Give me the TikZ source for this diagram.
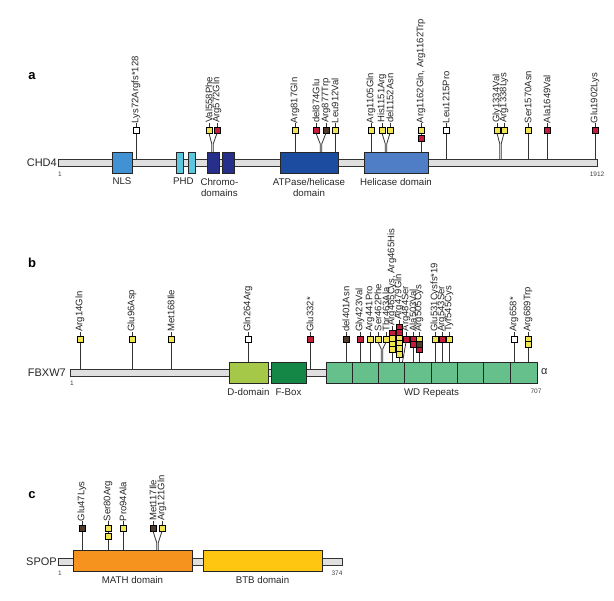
\documentclass[tikz,border=0pt]{standalone}
\usepackage{fontspec}
\setmainfont{Liberation Sans}
\usetikzlibrary{positioning}

\definecolor{myel}{RGB}{240,228,80}
\definecolor{mred}{RGB}{196,28,58}
\definecolor{mbrown}{RGB}{80,58,44}
\definecolor{mwhite}{RGB}{255,255,255}
\definecolor{cnls}{RGB}{64,146,212}
\definecolor{cphd}{RGB}{92,198,222}
\definecolor{cchr}{RGB}{38,48,138}
\definecolor{catp}{RGB}{28,76,160}
\definecolor{chel}{RGB}{80,126,198}
\definecolor{cdd}{RGB}{166,200,72}
\definecolor{cfb}{RGB}{20,134,70}
\definecolor{cwd}{RGB}{102,192,140}
\definecolor{cmath}{RGB}{246,146,30}
\definecolor{cbtb}{RGB}{254,198,16}

\begin{document}
\begin{tikzpicture}[x=1pt, y=-1pt]

      \tikzset{bar/.style = {draw=black!80, fill=black!12, line width=1.2pt, minimum height=7pt, inner sep=0pt}}
      \tikzset{dom/.style = {draw=black!85, line width=0.8pt, minimum height=21.2pt, inner sep=0pt}}
      \tikzset{sq/.style = {draw=black, line width=0.5pt, minimum size=5.8pt, inner sep=0pt}}
      \tikzset{stem/.style = {draw=black!80, line width=0.8pt}}
      \tikzset{lab/.style = {rotate=90, anchor=west, inner sep=0pt, text=black!85, font=\fontsize{9.5}{10}\selectfont}}
      \tikzset{dlab/.style = {inner sep=0pt, align=center, text=black!85, font=\fontsize{9.7}{11.5}\selectfont}}
      \tikzset{prot/.style = {anchor=east, inner sep=0pt, text=black!85, font=\fontsize{11}{13}\selectfont}}
      \tikzset{num/.style = {inner sep=0pt, text=black!75, font=\fontsize{6.5}{8}\selectfont}}
      \tikzset{panel/.style = {inner sep=0pt, font=\fontsize{13}{15}\selectfont\bfseries}}
      \useasboundingbox (0,0) rectangle (614,601);

      % a: CHD4
      \node[panel] (pa) at (32,76) {a};
      \node[bar, minimum width=539pt] (chd) at (328,163) {};
      \node[prot] (tchd) at (57,163) {CHD4};
      \node[num] (na1) at (60,174) {1};
      \node[num] (na2) at (597,174) {1912};
      \node[dom, fill=cnls, minimum width=20pt] (nls) at (122,163) {};
      \node[dom, fill=cphd, minimum width=7pt] (phdA) at (179.5,163) {};
      \node[dom, fill=cphd, minimum width=7pt] (phdB) at (191.5,163) {};
      \node[dom, fill=cchr, minimum width=12pt] (chrA) at (213,163) {};
      \node[dom, fill=cchr, minimum width=12pt] (chrB) at (228,163) {};
      \node[dom, fill=catp, minimum width=58pt] (atp) at (309,163) {};
      \node[dom, fill=chel, minimum width=64pt] (hel) at (396,163) {};
      \node[dlab, below=4pt of nls] (tnls) {NLS};
      \node[dlab, below=4pt of phdA.south east] (tphd) {PHD};
      \node[dlab, below=4pt of chrA.south east] (tchr) {Chromo-\\domains};
      \node[dlab, below=4pt of atp] (tatp) {ATPase/helicase\\domain};
      \node[dlab, below=4pt of hel] (thel) {Helicase domain};

      % a: mutations
      \foreach \x/\dm/\cs/\txt [count=\i] in {136/chd/mwhite/{Lys72Argfs*128}, 295/atp/myel/Arg817Gln,
          335/atp/myel/Leu912Val, 371/hel/myel/Arg1105Gln, 421/hel/{myel,mred}/{Arg1162Gln, Arg1162Trp},
          446/chd/mwhite/Leu1215Pro, 528/chd/myel/Ser1570Asn, 547/chd/mred/Ala1649Val, 595/chd/mred/Glu1902Lys}{
        \coordinate (a\i) at (\x,130);
        \draw[stem] (a\i) -- (a\i |- \dm.north);
        \draw[stem] (a\i) -- ++(0,-6.5) node[lab] {\txt};
        \foreach \cl [count=\j from 0] in \cs
          \node[sq, fill=\cl] (a\i-\j) at (\x,130+8.5*\j) {};
      }
      \foreach \xa/\ca/\ta/\xb/\cb/\tb/\xc/\dm [count=\i] in {209/myel/Val558Phe/217/mred/Arg572Gln/212.5/chrA,
          316/mred/del874Glu/326/mbrown/Arg877Trp/321/atp, 382/myel/His1151Arg/390/myel/del1152Asn/386/hel,
          497/myel/Gly1334Val/504/myel/Arg1338Lys/500.5/chd}{
        \node[sq, fill=\ca] (fal\i) at (\xa,130) {};
        \node[sq, fill=\cb] (far\i) at (\xb,130) {};
        \coordinate (fcl\i) at (\xc-0.7,144);
        \coordinate (fcr\i) at (\xc+0.7,144);
        \draw[stem] (fal\i.south) -- (fcl\i) -- (fcl\i |- \dm.north);
        \draw[stem] (far\i.south) -- (fcr\i) -- (fcr\i |- \dm.north);
        \draw[stem] (fal\i.north) -- ++(0,-3.6) node[lab] {\ta};
        \draw[stem] (far\i.north) -- ++(0,-3.6) node[lab] {\tb};
      }

      % b: FBXW7
      \node[panel] (pb) at (32,263) {b};
      \node[bar, minimum width=466pt] (fbx) at (303.5,373) {};
      \node[prot] (tfbx) at (66,373) {FBXW7};
      \node[num] (nb1) at (72,383) {1};
      \node[dom, fill=cdd, minimum width=39pt] (ddom) at (248.5,373) {};
      \node[dom, fill=cfb, minimum width=35pt] (fbox) at (288.5,373) {};
      \node[dom, fill=cwd, minimum width=211pt] (wd) at (431.5,373) {};
      \foreach \k in {1,...,7}
        \draw[draw=black!85, line width=0.8pt] (wd.north west) ++(\k*26.375,0) -- ++(0,21.2);
      \node[dlab, below=4.5pt of ddom] (tdd) {D-domain};
      \node[dlab, below=4.5pt of fbox] (tfb) {F-Box};
      \node[dlab, below=4.5pt of wd] (twd) {WD Repeats};
      \node[num, anchor=north] (nb2) at (536,389) {707};
      \node[dlab, anchor=west, font=\fontsize{11}{13}\selectfont] (alpha) at (541,372) {α};

      % b: mutations
      \foreach \x/\y/\dm/\cs/\txt [count=\i] in {80/339/fbx/myel/Arg14Gln, 132/339/fbx/myel/Glu96Asp,
          171/339/fbx/myel/Met168Ile, 248/339/ddom/mwhite/Gln264Arg, 310/339/fbx/mred/Glu332*,
          346/339/wd/mbrown/del401Asn, 360/339/wd/mred/Gly423Val, 370/339/wd/myel/Arg441Pro,
          392/333/wd/{mred,myel,myel,myel}/{Arg465Cys, Arg465His},
          399/327/wd/{mred,mred,myel,myel,myel,myel}/Arg479Gln,
          413/339/wd/{mred,mred}/Ala503Val, 419/339/wd/{myel,mbrown,mred}/Arg505Cys,
          435/339/wd/myel/Glu531Cysfs*19, 442/339/wd/mred/Arg543Ser, 449/339/wd/myel/Tyr545Cys,
          514/339/wd/mwhite/Arg658*, 528/339/wd/{myel,myel}/Arg689Trp}{
        \coordinate (b\i) at (\x,\y);
        \draw[stem] (b\i) -- (b\i |- \dm.north);
        \draw[stem] (b\i) -- ++(0,-7) node[lab] {\txt};
        \foreach \cl [count=\j from 0] in \cs
          \node[sq, fill=\cl] (b\i-\j) at (\x,\y+5.4*\j) {};
      }
      \node[sq, fill=myel] (fbl) at (378,339) {};
      \node[sq, fill=myel] (fbr) at (386,339) {};
      \coordinate (fbcl) at (381.3,349);
      \coordinate (fbcr) at (382.7,349);
      \draw[stem] (fbl.south) -- (fbcl) -- (fbcl |- wd.north);
      \draw[stem] (fbr.south) -- (fbcr) -- (fbcr |- wd.north);
      \draw[stem] (fbl.north) -- ++(0,-4.2) node[lab] {Ser462Phe};
      \draw[stem] (fbr.north) -- ++(0,-4.2) node[lab] {Thr463Ala};
      \node[sq, fill=mred] (b484) at (406,339) {};
      \coordinate (s484) at (402.5,362);
      \draw[stem] (b484.south) -- (s484);
      \draw[stem] (b484.north) -- ++(0,-4.2) node[lab] {Arg484Ser};

      % c: SPOP
      \node[panel] (pc) at (32,495) {c};
      \node[bar, minimum width=284pt] (spop) at (200.5,562) {};
      \node[prot] (tspop) at (57,562) {SPOP};
      \node[num] (nc1) at (60,573) {1};
      \node[num] (nc2) at (337,573) {374};
      \node[dom, fill=cmath, minimum width=119pt] (math) at (132.5,561) {};
      \node[dom, fill=cbtb, minimum width=119pt] (btb) at (262.5,561) {};
      \node[dlab, below=4.5pt of math] (tmath) {MATH domain};
      \node[dlab, below=4.5pt of btb] (tbtb) {BTB domain};

      % c: mutations
      \foreach \x/\cs/\txt [count=\i] in {82/mbrown/Glu47Lys, 108/{myel,myel}/Ser80Arg, 123/myel/Pro94Ala}{
        \coordinate (c\i) at (\x,528);
        \draw[stem] (c\i) -- (c\i |- math.north);
        \draw[stem] (c\i) -- ++(0,-6.5) node[lab] {\txt};
        \foreach \cl [count=\j from 0] in \cs
          \node[sq, fill=\cl] (c\i-\j) at (\x,528+8*\j) {};
      }
      \node[sq, fill=mbrown] (fcl) at (153,528) {};
      \node[sq, fill=myel] (fcr) at (162,528) {};
      \coordinate (fccl) at (156.8,543);
      \coordinate (fccr) at (158.2,543);
      \draw[stem] (fcl.south) -- (fccl) -- (fccl |- math.north);
      \draw[stem] (fcr.south) -- (fccr) -- (fccr |- math.north);
      \draw[stem] (fcl.north) -- ++(0,-3.6) node[lab] {Met117Ile};
      \draw[stem] (fcr.north) -- ++(0,-3.6) node[lab] {Arg121Gln};

\end{tikzpicture}
\end{document}
